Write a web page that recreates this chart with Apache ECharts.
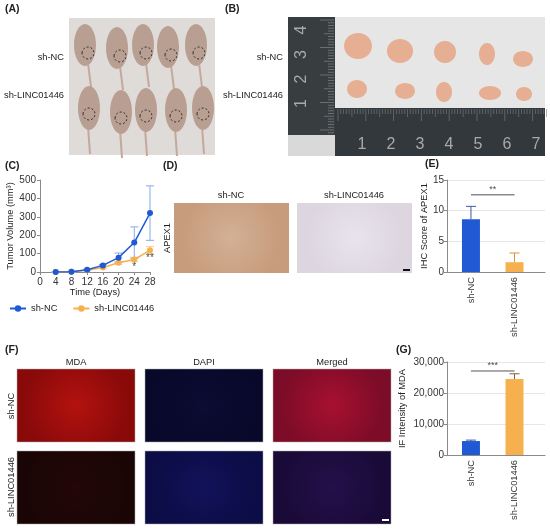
<!DOCTYPE html>
<html><head><meta charset="utf-8">
<script src="https://cdn.jsdelivr.net/npm/echarts@6/dist/echarts.min.js"></script>
<style>html,body{margin:0;padding:0;background:#fff}#c{width:550px;height:530px}</style>
</head><body><div id="c"></div><script>
// ---- data ----
const days = [4, 8, 12, 16, 20, 24, 28];
const ncVolume = [0, 2, 12, 36, 78, 160, 320];
const ncVolumeErr = [0, 1, 3, 5, 25, 85, 148];
const linVolume = [0, 1, 10, 24, 50, 68, 118];
const linVolumeErr = [0, 1, 2, 4, 8, 12, 20];
const volumeStars = [[24, 27, '*'], [28, 76, '**']];
const groups = ['sh-NC', 'sh-LINC01446'];
const ihcScore = [8.6, 1.6];
const ihcErr = [2.1, 1.5];
const ihcSig = [12.6, '**'];
const mdaIntensity = [4500, 24500];
const mdaErr = [300, 1700];
const mdaSig = [27100, '***'];

const BLUE = '#1f5ad4', ORANGE = '#f7b04e';
const FONT = '"Liberation Sans", Arial, sans-serif';
const LBL = 9.3;
const groupX = groups.map((g, i) => i + 0.55);

function errSeries(xs, ys, es, color, idx, both, hw, z) {
  return {
    type: 'custom', xAxisIndex: idx, yAxisIndex: idx, silent: true, z: z,
    encode: { x: 0, y: [1, 2] },
    data: xs.map((x, i) => [x, both ? ys[i] - es[i] : ys[i], ys[i] + es[i]]),
    renderItem(params, api) {
      const x = api.value(0);
      const lo = api.coord([x, api.value(1)]);
      const hi = api.coord([x, api.value(2)]);
      const st = { stroke: color, lineWidth: 1 };
      const ch = [
        { type: 'line', shape: { x1: lo[0], y1: lo[1], x2: hi[0], y2: hi[1] }, style: st },
        { type: 'line', shape: { x1: hi[0] - hw, y1: hi[1], x2: hi[0] + hw, y2: hi[1] }, style: st }
      ];
      if (both) ch.push({ type: 'line', shape: { x1: lo[0] - hw, y1: lo[1], x2: lo[0] + hw, y2: lo[1] }, style: st });
      return { type: 'group', children: ch };
    }
  };
}

function txt(text, x, y, opt) {
  opt = opt || {};
  return {
    type: 'text', x: x, y: y, rotation: opt.rot || 0, z: 100,
    style: {
      text: text, fill: opt.fill || '#222',
      font: (opt.weight || 'normal') + ' ' + (opt.size || LBL) + 'px ' + FONT,
      align: opt.align || 'center', verticalAlign: 'middle'
    }
  };
}
function rect(x, y, w, h, fill, extra) {
  return Object.assign({ type: 'rect', shape: { x: x, y: y, width: w, height: h }, style: { fill: fill }, z: 1 }, extra || {});
}
function ell(cx, cy, rx, ry, fill, stroke) {
  return { type: 'ellipse', shape: { cx: cx, cy: cy, rx: rx, ry: ry }, style: { fill: fill, stroke: stroke || null, lineWidth: 1, lineDash: stroke ? [2, 2] : null }, z: 2 };
}
function seg(x1, y1, x2, y2, color, w) {
  return { type: 'line', shape: { x1: x1, y1: y1, x2: x2, y2: y2 }, style: { stroke: color, lineWidth: w || 1 }, z: 2 };
}
function grad(c1, c2) {
  return new echarts.graphic.RadialGradient(0.5, 0.5, 0.7, [{ offset: 0, color: c1 }, { offset: 1, color: c2 }]);
}

// ---- decorative photo placeholders ----
const g = [];
// (A) mice photo
g.push(rect(69, 18, 146, 137, '#dedbd9'));
[[85, 45], [117, 48], [143, 45], [168, 47], [196, 45]].forEach(p => {
  g.push(seg(p[0] + 3, p[1] + 18, p[0] + 6, p[1] + 42, '#c6a89b', 2));
  g.push(ell(p[0], p[1], 11, 21, '#b99f92'));
  g.push(ell(p[0] + 3, p[1] + 8, 6, 6, null, '#333'));
});
[[89, 108], [121, 112], [146, 110], [176, 110], [203, 108]].forEach(p => {
  g.push(seg(p[0] - 1, p[1] + 18, p[0] + 1, p[1] + 46, '#c6a89b', 2));
  g.push(ell(p[0], p[1], 11, 22, '#b99f92'));
  g.push(ell(p[0], p[1] + 6, 6, 6, null, '#333'));
});
// (B) tumors photo
g.push(rect(288, 17, 257, 139, '#e6e6e6'));
g.push(rect(288, 17, 47, 118, '#383d40'));
g.push(rect(288, 135, 47, 21, '#d9d9d9'));
g.push(rect(335, 108, 210, 48, '#33383c'));
for (let i = 0; i < 42; i++) {
  const y = 20 + i * 2.75, long = i % 10 === 0 ? 14 : (i % 5 === 0 ? 10 : 6);
  g.push(seg(334 - long, y, 334, y, '#8d9294', 0.6));
}
for (let i = 0; i < 76; i++) {
  const x = 338 + i * 2.78, long = i % 10 === 0 ? 12 : (i % 5 === 0 ? 8 : 5);
  g.push(seg(x, 109, x, 109 + long, '#7d8284', 0.6));
}
['1', '2', '3', '4', '5', '6', '7'].forEach((t, i) => g.push(txt(t, 362 + i * 29, 145, { size: 16, fill: '#a9a9a9' })));
['4', '3', '2', '1'].forEach((t, i) => g.push(txt(t, 302, 30 + i * 24.5, { size: 16, fill: '#a9a9a9', rot: Math.PI / 2 })));
[[358, 46, 14, 13], [400, 51, 13, 12], [445, 52, 11, 11], [487, 54, 8, 11], [523, 59, 10, 8],
 [357, 89, 10, 9], [405, 91, 10, 8], [444, 92, 8, 10], [490, 93, 11, 7], [524, 94, 8, 7]]
  .forEach(p => g.push(ell(p[0], p[1], p[2], p[3], '#e6ae92')));
// (D) IHC images
g.push(rect(174, 203, 115, 70, grad('#d3b096', '#c79c7c')));
g.push(rect(297, 203, 115, 70, grad('#e8e3ec', '#ddd6e0')));
g.push(rect(403, 269, 7, 2, '#111', { z: 3 }));
// (F) IF images
const fFill = [
  [grad('#b3120f', '#8a0a0a'), grad('#0c0c34', '#08082a'), grad('#a81030', '#7c0c28')],
  [grad('#240708', '#1a0505'), grad('#12125a', '#0c0c46'), grad('#24104a', '#1a0a38')]
];
[369, 451].forEach((y, r) => [17, 145, 273].forEach((x, c) =>
  g.push(rect(x, y, 118, 73, fFill[r][c], { style: { fill: fFill[r][c], stroke: '#aaa', lineWidth: 0.5 } }))));
g.push(rect(382, 519, 7, 2, '#fff', { z: 3 }));

// ---- texts ----
const PL = { align: 'left', weight: 'bold', size: 10.5 };
g.push(txt('(A)', 5, 9, PL));
g.push(txt('(B)', 225, 9, PL));
g.push(txt('(C)', 5, 166, PL));
g.push(txt('(D)', 163, 166, PL));
g.push(txt('(E)', 425, 164, PL));
g.push(txt('(F)', 5, 350, PL));
g.push(txt('(G)', 396, 350, PL));
g.push(txt(groups[0], 64, 57, { align: 'right' }));
g.push(txt(groups[1], 64, 95, { align: 'right' }));
g.push(txt(groups[0], 283, 57, { align: 'right' }));
g.push(txt(groups[1], 283, 95, { align: 'right' }));
g.push(txt(groups[0], 231, 195));
g.push(txt(groups[1], 354, 195));
g.push(txt('APEX1', 167, 238, { rot: Math.PI / 2 }));
g.push(txt('MDA', 76, 362));
g.push(txt('DAPI', 204, 362));
g.push(txt('Merged', 332, 362));
g.push(txt(groups[0], 11, 406, { rot: Math.PI / 2 }));
g.push(txt(groups[1], 11, 487, { rot: Math.PI / 2 }));

const axisText = { color: '#333', fontSize: 10, fontFamily: FONT };
const catText = { color: '#333', fontSize: LBL, fontFamily: FONT };
const axisLine = { show: true, lineStyle: { color: '#8a8a8a', width: 1 } };
const axisTick = { show: true, length: 3, lineStyle: { color: '#8a8a8a' } };
const nameText = { color: '#222', fontSize: LBL, fontFamily: FONT };

const option = {
  animation: false,
  textStyle: { fontFamily: FONT },
  graphic: g,
  grid: [
    { left: 40, top: 180, width: 110, height: 92 },
    { left: 447, top: 180, width: 98, height: 92 },
    { left: 447, top: 362, width: 98, height: 93 }
  ],
  legend: {
    left: 4, top: 299, itemWidth: 16, itemHeight: 8, itemGap: 15,
    textStyle: { fontSize: LBL, color: '#222', fontFamily: FONT },
    data: groups
  },
  xAxis: [
    { type: 'value', gridIndex: 0, min: 0, max: 28, interval: 4, axisLine: axisLine, axisTick: axisTick,
      axisLabel: Object.assign({ margin: 5 }, axisText), splitLine: { show: false },
      name: 'Time (Days)', nameLocation: 'middle', nameGap: 16, nameTextStyle: nameText },
    { type: 'value', gridIndex: 1, min: 0, max: 2.25, axisLine: axisLine, axisTick: { show: false }, splitLine: { show: false },
      axisLabel: Object.assign({ customValues: groupX, rotate: 90, margin: 5, formatter: v => groups[Math.round(v - 0.55)] }, catText) },
    { type: 'value', gridIndex: 2, min: 0, max: 2.25, axisLine: axisLine, axisTick: { show: false }, splitLine: { show: false },
      axisLabel: Object.assign({ customValues: groupX, rotate: 90, margin: 5, formatter: v => groups[Math.round(v - 0.55)] }, catText) }
  ],
  yAxis: [
    { type: 'value', gridIndex: 0, min: 0, max: 500, interval: 100, axisLine: axisLine, axisTick: axisTick,
      axisLabel: Object.assign({ margin: 4 }, axisText), splitLine: { show: false },
      name: 'Tumor Volume (mm³)', nameLocation: 'middle', nameGap: 24, nameTextStyle: nameText },
    { type: 'value', gridIndex: 1, min: 0, max: 15, interval: 5, axisLine: axisLine, axisTick: axisTick,
      axisLabel: Object.assign({ margin: 3 }, axisText), splitLine: { show: true, lineStyle: { color: '#e6e6e6' } },
      name: 'IHC Score of APEX1', nameLocation: 'middle', nameGap: 18, nameTextStyle: nameText },
    { type: 'value', gridIndex: 2, min: 0, max: 30000, interval: 10000, axisLine: axisLine, axisTick: axisTick,
      axisLabel: Object.assign({ margin: 3, formatter: v => v.toLocaleString('en-US') }, axisText),
      splitLine: { show: true, lineStyle: { color: '#e6e6e6' } },
      name: 'IF Intensity of MDA', nameLocation: 'middle', nameGap: 40, nameTextStyle: nameText }
  ],
  series: [
    errSeries(days, linVolume, linVolumeErr, '#f9cf93', 0, true, 4, 2),
    errSeries(days, ncVolume, ncVolumeErr, '#86a9ee', 0, true, 4, 3),
    { name: groups[1], type: 'line', xAxisIndex: 0, yAxisIndex: 0, z: 4, data: days.map((d, i) => [d, linVolume[i]]),
      symbol: 'circle', symbolSize: 6, itemStyle: { color: ORANGE }, lineStyle: { color: ORANGE, width: 1.5 } },
    { name: groups[0], type: 'line', xAxisIndex: 0, yAxisIndex: 0, z: 5, data: days.map((d, i) => [d, ncVolume[i]]),
      symbol: 'circle', symbolSize: 6, itemStyle: { color: BLUE }, lineStyle: { color: BLUE, width: 1.5 } },
    { type: 'scatter', xAxisIndex: 0, yAxisIndex: 0, symbolSize: 0, silent: true, z: 6,
      data: volumeStars.map(s => ({ value: [s[0], s[1]], label: { show: true, formatter: s[2], color: '#222', fontSize: 10, position: 'inside' } })) },
    // E
    { type: 'bar', xAxisIndex: 1, yAxisIndex: 1, barWidth: 18, z: 2,
      data: groupX.map((x, i) => ({ value: [x, ihcScore[i]], itemStyle: { color: i ? ORANGE : BLUE } })) },
    errSeries(groupX.slice(0, 1), ihcScore.slice(0, 1), ihcErr.slice(0, 1), '#3d5a9e', 1, false, 5, 3),
    errSeries(groupX.slice(1), ihcScore.slice(1), ihcErr.slice(1), '#d8953c', 1, false, 5, 3),
    { type: 'line', xAxisIndex: 1, yAxisIndex: 1, symbol: 'none', silent: true, z: 3,
      lineStyle: { color: '#8a8a8a', width: 1.5 }, data: groupX.map(x => [x, ihcSig[0]]) },
    { type: 'scatter', xAxisIndex: 1, yAxisIndex: 1, symbolSize: 0, silent: true, z: 3,
      data: [{ value: [(groupX[0] + groupX[1]) / 2, ihcSig[0]], label: { show: true, formatter: ihcSig[1], position: 'top', distance: 1, color: '#222', fontSize: 9 } }] },
    // G
    { type: 'bar', xAxisIndex: 2, yAxisIndex: 2, barWidth: 18, z: 2,
      data: groupX.map((x, i) => ({ value: [x, mdaIntensity[i]], itemStyle: { color: i ? ORANGE : BLUE } })) },
    errSeries(groupX.slice(0, 1), mdaIntensity.slice(0, 1), mdaErr.slice(0, 1), '#3d5a9e', 2, false, 5, 3),
    errSeries(groupX.slice(1), mdaIntensity.slice(1), mdaErr.slice(1), '#8a6030', 2, false, 5, 3),
    { type: 'line', xAxisIndex: 2, yAxisIndex: 2, symbol: 'none', silent: true, z: 3,
      lineStyle: { color: '#555', width: 1 }, data: groupX.map(x => [x, mdaSig[0]]) },
    { type: 'scatter', xAxisIndex: 2, yAxisIndex: 2, symbolSize: 0, silent: true, z: 3,
      data: [{ value: [(groupX[0] + groupX[1]) / 2, mdaSig[0]], label: { show: true, formatter: mdaSig[1], position: 'top', distance: 1, color: '#222', fontSize: 9 } }] }
  ]
};
const chart = echarts.init(document.getElementById('c'), null, { renderer: 'canvas' });
chart.setOption(option);
</script></body></html>
